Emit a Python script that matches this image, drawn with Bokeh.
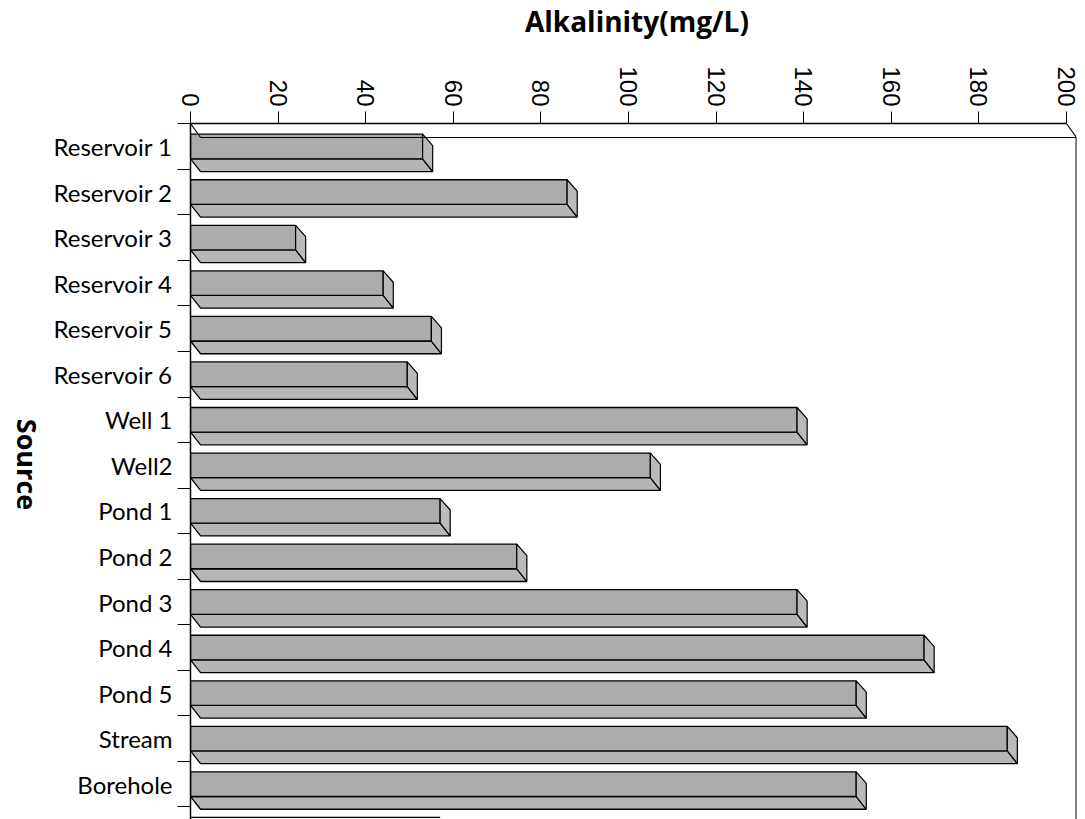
import math
from bokeh.plotting import figure
from bokeh.models import Range1d, FixedTicker
from bokeh.layouts import row, column
from bokeh.core.properties import value
from bokeh.embed import file_html
from bokeh.resources import INLINE

# ---- data ----
categories = ["Reservoir 1", "Reservoir 2", "Reservoir 3", "Reservoir 4", "Reservoir 5",
              "Reservoir 6", "Well 1", "Well2", "Pond 1", "Pond 2", "Pond 3", "Pond 4",
              "Pond 5", "Stream", "Borehole"]
alkalinity = [53, 86, 24, 44, 55, 49.5, 138.5, 105, 57, 74.5, 138.5, 167.5, 152, 186.5, 152]
x_ticks = [0, 20, 40, 60, 80, 100, 120, 140, 160, 180, 200]
x_title = "Alkalinity(mg/L)"
y_title = "Source"

# ---- geometry (3D look) ----
D = 2.3      # depth offset in x (data units)
DY = 0.25    # depth offset in y (category units)
TOP, MID, BOT = -0.27, 0.27, 0.55
XMAX = 200

LEFT_W, TITLE_H = 45, 45


def blank(w, h):
    f = figure(width=w, height=h, output_backend="svg", toolbar_location=None,
               x_range=Range1d(0, w), y_range=Range1d(h, 0),
               x_axis_type=None, y_axis_type=None,
               min_border_left=0, min_border_right=0, min_border_top=0, min_border_bottom=0)
    f.outline_line_color = None
    f.grid.grid_line_color = None
    return f


# left strip with the y title
lf = blank(LEFT_W, 819)
lf.text(x=[27], y=[464], text=[y_title], angle=-math.pi / 2, text_align="center",
        text_baseline="middle", text_font=value("Open Sans"), text_font_style="bold",
        text_font_size="27px", text_color="black")

# top strip with the x title
tf = blank(1085 - LEFT_W, TITLE_H)
tf.text(x=[524], y=[20], text=[x_title], text_align="center",
        text_baseline="middle", text_font=value("Open Sans"), text_font_style="bold",
        text_font_size="28px", text_color="black")

p = figure(width=1085 - LEFT_W, height=819 - TITLE_H, output_backend="svg",
           toolbar_location=None,
           x_range=Range1d(0, XMAX + D), y_range=Range1d(14.775, -0.505),
           x_axis_location="above", min_border_left=190 - LEFT_W, min_border_right=9,
           min_border_top=123 - TITLE_H, min_border_bottom=0)
p.outline_line_color = None
p.grid.grid_line_color = None
p.background_fill_color = "white"
p.border_fill_color = "white"

n = len(categories)
ys = list(range(n))

up_xs, up_ys, lo_xs, lo_ys, sd_xs, sd_ys = [], [], [], [], [], []
for i, v in zip(ys, alkalinity):
    up_xs.append([0, v, v, 0]); up_ys.append([i + TOP, i + TOP, i + MID, i + MID])
    lo_xs.append([0, v, v + D, D]); lo_ys.append([i + MID, i + MID, i + BOT, i + BOT])
    sd_xs.append([v, v + D, v + D, v]); sd_ys.append([i + TOP, i + TOP + DY, i + BOT, i + MID])

p.patches(lo_xs, lo_ys, fill_color="#b6b6b6", line_color="black", line_width=1.3)
p.patches(up_xs, up_ys, fill_color="#acacac", line_color="black", line_width=1.3)
p.patches(sd_xs, sd_ys, fill_color="#bababa", line_color="black", line_width=1.2)

# back wall / floor lines
p.line([0, D], [-0.505, -0.505 + 0.307], line_color="black", line_width=1.2)
p.line([D, XMAX + D], [-0.198, -0.198], line_color="black", line_width=1.2)
p.line([XMAX, XMAX + D], [-0.505, -0.198], line_color="black", line_width=1.2)
p.line([XMAX + D - 0.05, XMAX + D - 0.05], [-0.198, 14.775], line_color="black", line_width=1.5)
p.line([0, 57], [14.73, 14.73], line_color="black", line_width=1.2)

# x axis (top)
xa = p.xaxis[0]
xa.ticker = FixedTicker(ticks=x_ticks)
xa.bounds = (0, XMAX)
xa.major_tick_out = 12
xa.major_tick_in = 0
xa.minor_tick_line_color = None
xa.major_label_orientation = -math.pi / 2
xa.major_label_standoff = 5
xa.major_label_text_font = "Liberation Sans"
xa.major_label_text_font_size = "24px"
xa.major_label_text_color = "black"
xa.axis_line_color = "black"
xa.axis_line_width = 1.3

# y axis (left) : categories
ya = p.yaxis[0]
ya.ticker = FixedTicker(ticks=ys, minor_ticks=[i - 0.5 for i in range(n + 1)])
ya.major_label_overrides = {i: c for i, c in zip(ys, categories)}
ya.major_tick_line_color = None
ya.major_tick_out = 0
ya.major_tick_in = 0
ya.minor_tick_out = 13
ya.minor_tick_in = 0
ya.minor_tick_line_color = "black"
ya.major_label_standoff = 5
ya.major_label_text_font = "Lato"
ya.major_label_text_font_size = "24px"
ya.major_label_text_color = "black"
ya.axis_line_color = "black"
ya.axis_line_width = 1.5

layout = row(lf, column(tf, p, spacing=0), spacing=0)
open("out.html", "w").write(file_html(layout, INLINE))
